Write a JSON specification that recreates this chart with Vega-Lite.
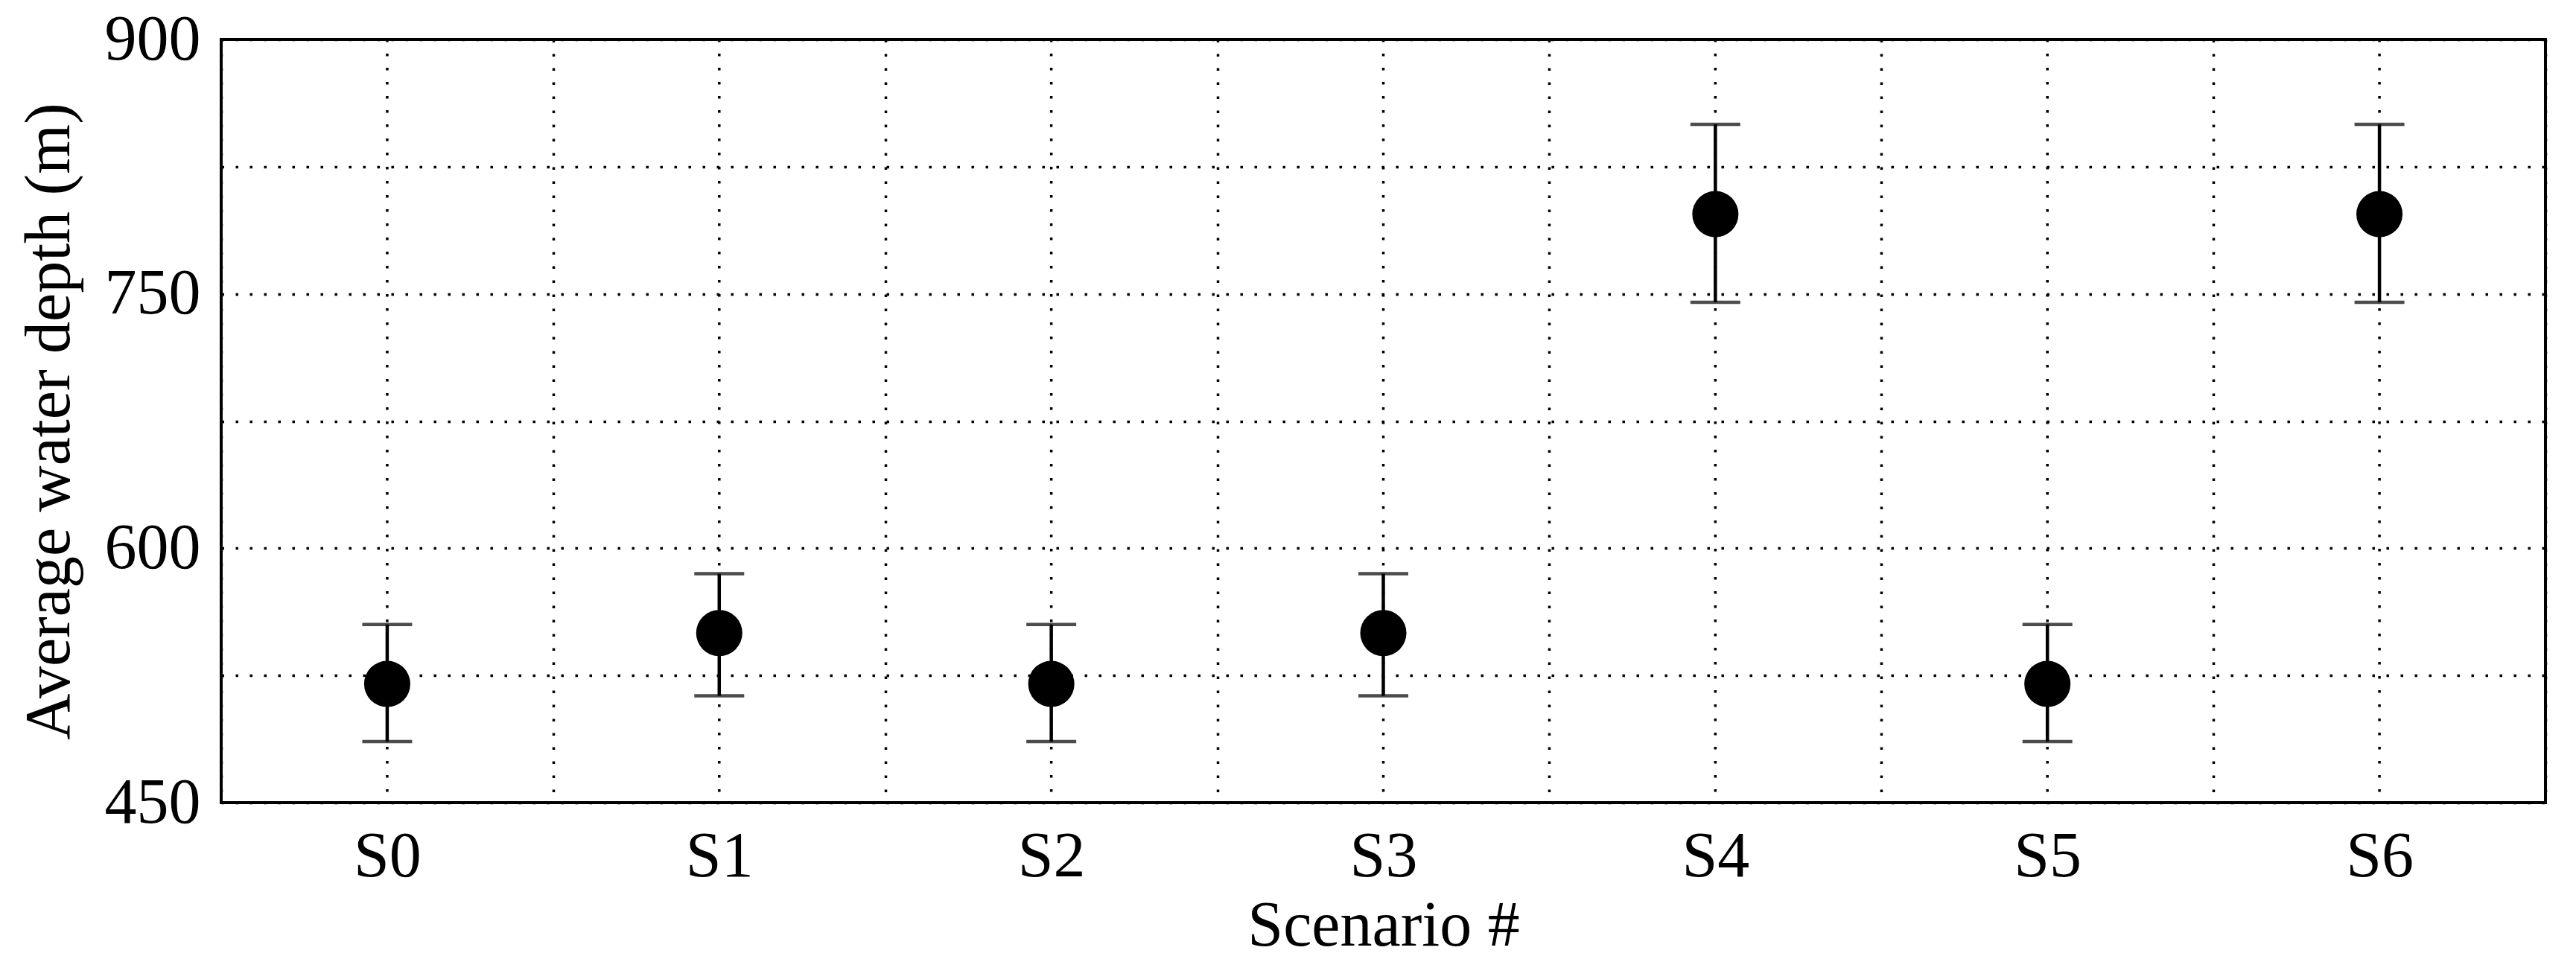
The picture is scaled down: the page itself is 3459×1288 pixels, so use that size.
{
  "$schema": "https://vega.github.io/schema/vega-lite/v6.json",
  "width": 3121,
  "height": 1025,
  "autosize": {"type": "none"},
  "padding": {"left": 297, "top": 53, "right": 41, "bottom": 210},
  "background": "white",
  "data": {
    "values": [
      {"scenario": "S0", "depth": 520, "lower": 486, "upper": 555},
      {"scenario": "S1", "depth": 550, "lower": 513, "upper": 585},
      {"scenario": "S2", "depth": 520, "lower": 486, "upper": 555},
      {"scenario": "S3", "depth": 550, "lower": 513, "upper": 585},
      {"scenario": "S4", "depth": 797, "lower": 745, "upper": 850},
      {"scenario": "S5", "depth": 520, "lower": 486, "upper": 555},
      {"scenario": "S6", "depth": 797, "lower": 745, "upper": 850}
    ]
  },
  "config": {
    "view": {"stroke": "black", "strokeWidth": 4},
    "font": "Liberation Serif",
    "axis": {
      "labelFont": "Liberation Serif",
      "titleFont": "Liberation Serif",
      "labelColor": "black",
      "titleColor": "black",
      "titleFontWeight": "normal",
      "labelFontSize": 86,
      "titleFontSize": 86,
      "domain": false,
      "ticks": false,
      "tickSize": 0,
      "grid": true,
      "gridColor": "black",
      "gridOpacity": 1,
      "gridWidth": 3.5,
      "gridDash": [3.5, 15.5]
    }
  },
  "encoding": {
    "x": {
      "field": "scenario",
      "type": "nominal",
      "sort": ["S0", "S1", "S2", "S3", "S4", "S5", "S6"],
      "scale": {"type": "band", "paddingInner": 0, "paddingOuter": 0},
      "axis": {
        "title": "Scenario #",
        "tickBand": "extent",
        "labelAngle": 0,
        "labelPadding": 30,
        "titlePadding": 8
      }
    }
  },
  "layer": [
    {
      "mark": {"type": "rule", "color": "black", "strokeWidth": 3.5, "strokeDash": [3.5, 15.5]},
      "encoding": {}
    },
    {
      "mark": {"type": "rule", "color": "black", "strokeWidth": 4.5},
      "encoding": {
        "y": {
          "field": "lower",
          "type": "quantitative",
          "scale": {"domain": [450, 900], "nice": false, "zero": false},
          "axis": {
            "title": "Average water depth (m)",
            "values": [450, 525, 600, 675, 750, 825, 900],
            "labelExpr": "datum.value % 150 === 0 ? datum.label : ''",
            "labelPadding": 28,
            "titlePadding": 30
          }
        },
        "y2": {"field": "upper"}
      }
    },
    {
      "mark": {"type": "tick", "color": "black", "size": 67, "thickness": 4.5, "orient": "horizontal"},
      "encoding": {"y": {"field": "lower", "type": "quantitative"}}
    },
    {
      "mark": {"type": "tick", "color": "black", "size": 67, "thickness": 4.5, "orient": "horizontal"},
      "encoding": {"y": {"field": "upper", "type": "quantitative"}}
    },
    {
      "mark": {"type": "point", "shape": "circle", "filled": true, "color": "black", "opacity": 1, "size": 3850},
      "encoding": {"y": {"field": "depth", "type": "quantitative"}}
    }
  ]
}
